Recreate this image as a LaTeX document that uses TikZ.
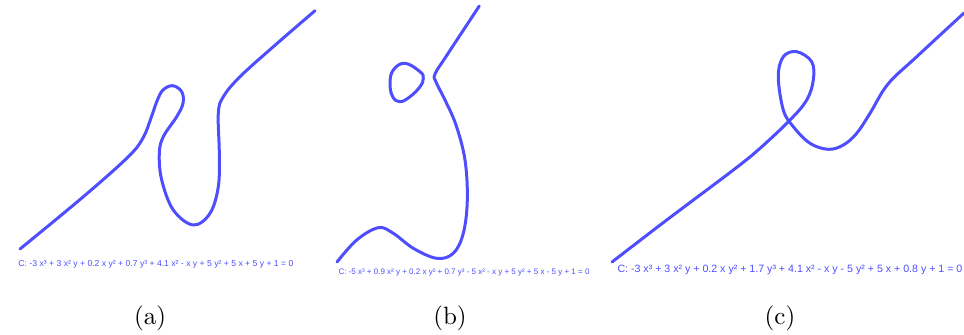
\documentclass[tikz,border=0pt]{standalone}
\usepackage{fontspec}
\newfontfamily\eqfont{Liberation Sans}
\usepackage{tikz}
\usetikzlibrary{positioning}
\definecolor{curveblue}{RGB}{78,78,255}

\tikzset{
  curve/.style={curveblue,line width=1.2pt,line cap=round,line join=round},
  eqlabel/.style={text=curveblue,inner sep=0pt,anchor=west},
  sublabel/.style={font=\normalsize,inner sep=0pt}
}

\begin{document}
\begin{tikzpicture}[x=0.4pt,y=-0.4pt]
  % Canvas
  \useasboundingbox (0,0) rectangle (964,334);

  % Curve (a)
  \draw[curve] plot[smooth,tension=0.6] coordinates {
    (20,249) (83,197) (128,157) (143,138) (151,118) (157,101) (163,90)
    (172.7,85.7) (181.7,91.7) (183,103.3) (176.7,116.7) (163.3,136.7)
    (159.3,153.3) (161.7,180) (173.3,210) (193.3,225) (210,213.3)
    (218.3,186.7) (219.3,153.3) (218.3,113.3) (223.3,96.7) (240,76.7)
    (273.3,46.7) (315,10.7)};
  \node[eqlabel,font=\eqfont\fontsize{3.45}{4}\selectfont] (eqa) at (18,264)
    {C: -3 x³ + 3 x² y + 0.2 x y² + 0.7 y³ + 4.1 x² - x y + 5 y² + 5 x + 5 y + 1 = 0};
  \node[sublabel] (laba) at (150,318) {(a)};

  % Curve (b)
  \draw[curve] plot[smooth,tension=0.6] coordinates {
    (337,262) (356.7,240) (378.3,227.7) (393.3,233.3) (413.3,248.3)
    (436.7,258.3) (453.3,253.3) (463.3,233.3) (467.3,200) (465,160)
    (456,125) (445,100) (436,82) (435,74) (446.7,55.5) (479.3,6)};
  \draw[curve] plot[smooth cycle,tension=0.7] coordinates {
    (405,63.3) (420,71.7) (423.3,78.3) (420,86.7) (410,96.7) (400,101.7)
    (392.7,96.7) (390,83.3) (393.3,70)};
  \node[eqlabel,font=\eqfont\fontsize{3.2}{4}\selectfont] (eqb) at (338,273)
    {C: -5 x³ + 0.9 x² y + 0.2 x y² + 0.7 y³ - 5 x² - x y + 5 y² + 5 x - 5 y + 1 = 0};
  \node[sublabel] (labb) at (450,318) {(b)};

  % Curve (c)
  \draw[curve] plot[smooth,tension=0.6] coordinates {
    (612,262) (666.7,220) (733.3,170) (760,148.3) (790,120) (806.7,100)
    (813.3,80) (811.7,61.7) (796.7,51.7) (783.3,56.7) (778.3,76.7)
    (783.3,110) (793.3,126.7) (810,143.3) (828.3,149.3) (843.3,145)
    (856.7,133.3) (870,113.3) (888,84) (916.7,56.7) (964,13)};
  \node[eqlabel,font=\eqfont\fontsize{4.25}{5}\selectfont] (eqc) at (617,270)
    {C: -3 x³ + 3 x² y + 0.2 x y² + 1.7 y³ + 4.1 x² - x y - 5 y² + 5 x + 0.8 y + 1 = 0};
  \node[sublabel] (labc) at (780,318) {(c)};
\end{tikzpicture}
\end{document}
